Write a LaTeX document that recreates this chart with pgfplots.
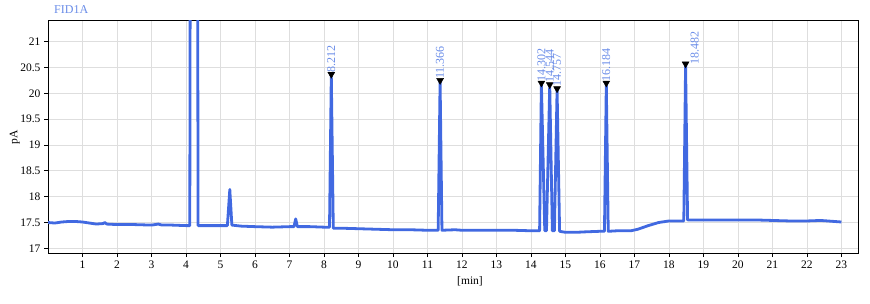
\documentclass[border=0pt]{standalone}
\usepackage{fontspec}
\setmainfont{Liberation Serif}
\usepackage{pgfplots}
\pgfplotsset{compat=1.18}
\definecolor{lineblue}{RGB}{65,105,225}
\definecolor{lblblue}{RGB}{105,140,232}
\begin{document}
\begin{tikzpicture}
\begin{axis}[
  scale only axis, width=810pt, height=232pt,
  xmin=0, xmax=23.48, ymin=16.91, ymax=21.4,
  xtick={1,2,3,4,5,6,7,8,9,10,11,12,13,14,15,16,17,18,19,20,21,22,23},
  ytick={17,17.5,18,18.5,19,19.5,20,20.5,21},
  grid=major, major grid style={black!13, line width=0.9pt},
  tick align=outside, xtick pos=left, ytick pos=left,
  major tick length=4pt,
  axis line style={line width=1pt},
  tick style={black, line width=0.8pt},
  ticklabel style={font=\fontsize{11.5}{11.5}\selectfont},
  /pgf/number format/assume math mode=true,
  xlabel={[min]}, ylabel={pA},
  xlabel style={at={(axis description cs:0.521,-0.12)}, anchor=center, font=\fontsize{11.5}{11.5}\selectfont},
  ylabel style={at={(axis description cs:-0.041,0.5)}, anchor=center, font=\fontsize{11.5}{11.5}\selectfont},
]
\addplot[lineblue, line width=2.8pt, line join=round] coordinates {
(0.00,17.50) (0.2,17.49) (0.4,17.51) (0.6,17.52) (0.8,17.52) (1.0,17.51) (1.2,17.49) (1.4,17.47) (1.6,17.48) (1.65,17.50) (1.7,17.47) (2.0,17.46) (2.5,17.46) (3.0,17.45) (3.2,17.47) (3.3,17.45) (3.6,17.45) (4.0,17.44) (4.11,17.44) (4.14,30) (4.32,30) (4.35,17.44) (4.6,17.44) (5.0,17.44) (5.2,17.44) (5.27,18.14) (5.33,17.45) (5.6,17.43) (6.0,17.42) (6.5,17.41) (7.0,17.42) (7.13,17.42) (7.18,17.57) (7.23,17.42) (7.6,17.42) (8.0,17.41) (8.16,17.41) (8.212,20.37) (8.27,17.39) (8.5,17.39) (9.0,17.38) (9.5,17.37) (10.0,17.36) (10.5,17.36) (11.0,17.35) (11.31,17.35) (11.366,20.25) (11.42,17.35) (11.8,17.36) (12.0,17.35) (12.5,17.35) (13.0,17.35) (13.5,17.35) (14.0,17.34) (14.25,17.34) (14.302,20.20) (14.40,17.34) (14.45,17.34) (14.544,20.17) (14.62,17.34) (14.68,17.34) (14.757,20.09) (14.83,17.33) (15.0,17.31) (15.3,17.31) (15.6,17.32) (16.0,17.33) (16.13,17.33) (16.184,20.20) (16.24,17.33) (16.5,17.34) (16.9,17.34) (17.1,17.37) (17.4,17.44) (17.7,17.50) (18.0,17.53) (18.3,17.53) (18.43,17.53) (18.482,20.57) (18.54,17.55) (19.0,17.55) (19.5,17.55) (20.0,17.55) (20.5,17.55) (21.0,17.54) (21.5,17.53) (22.0,17.53) (22.4,17.54) (22.6,17.53) (23.0,17.51)
};
\addplot[only marks, mark=triangle*, mark size=4pt, mark options={rotate=180, fill=black, draw=black}] coordinates {
(8.212,20.37) (11.366,20.25) (14.302,20.20) (14.544,20.17) (14.757,20.09) (16.184,20.20) (18.482,20.57)
};
\addplot[only marks, mark=none, nodes near coords, point meta=explicit symbolic,
  nodes near coords style={rotate=90, anchor=west, text=lblblue, font=\fontsize{12}{12}\selectfont, inner sep=1.5pt}]
  table[meta=label] {
x y label
8.212 20.37 8.212
11.366 20.25 11.366
14.302 20.20 14.302
14.544 20.17 14.544
14.757 20.09 14.757
16.184 20.20 16.184
18.75 20.52 18.482
};
\end{axis}
\node[anchor=west, text=lblblue, font=\fontsize{12}{12}\selectfont, inner sep=0pt] at ([xshift=6pt,yshift=11.5pt]current axis.north west) {FID1A};
\pgfresetboundingbox
\path[use as bounding box] ([xshift=-48pt,yshift=-50pt]current axis.south west) rectangle ([xshift=12pt,yshift=21pt]current axis.north east);
\end{tikzpicture}
\end{document}
